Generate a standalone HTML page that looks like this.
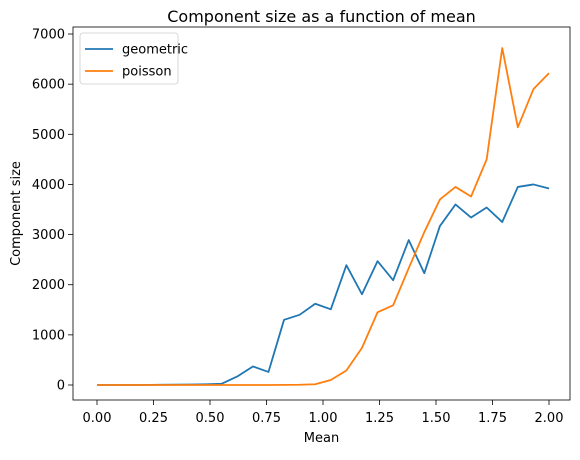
<!DOCTYPE html>
<html><head><meta charset="utf-8"><style>
body{margin:0;background:#fff}
text{font-family:"DejaVu Sans","Liberation Sans",sans-serif;fill:#000}
</style></head><body>
<svg width="580" height="455" id="svg">
</svg>
<script>
const categories=[];for(let i=0;i<30;i++)categories.push(i*2/29);
const geometric=[0,0,0,0,5,8,10,15,25,170,370,260,1300,1400,1620,1510,2390,1810,2470,2090,2890,2230,3170,3600,3340,3540,3250,3950,4000,3920];
const poisson=[0,0,0,0,0,0,0,0,0,0,0,0,2,5,15,100,290,740,1450,1590,2330,3050,3700,3950,3760,4500,6720,5140,5900,6220];
const xTicks=["0.00","0.25","0.50","0.75","1.00","1.25","1.50","1.75","2.00"];
const yTicks=[0,1000,2000,3000,4000,5000,6000,7000];
const L=73,R=570,T=27,B=400;
const X=v=>97+v*226, Y=v=>385-v*0.05014;
const s=document.getElementById('svg');const N='http://www.w3.org/2000/svg';
function mk(t,a,txt){const e=document.createElementNS(N,t);for(const k in a)e.setAttribute(k,a[k]);if(txt!==undefined)e.textContent=txt;s.appendChild(e);return e;}
let e;
xTicks.forEach(t=>{const x=X(+t);
e=mk('line',{x1:x,x2:x,y1:B,y2:B+5,stroke:'#000','stroke-width':0.8});

e=mk('text',{x:x,y:B+22,'font-size':13,'text-anchor':'middle'},t);
});
yTicks.forEach(t=>{const y=Y(t);
e=mk('line',{x1:L-5,x2:L,y1:y,y2:y,stroke:'#000','stroke-width':0.8});

e=mk('text',{x:L-8,y:y+4.5,'font-size':13,'text-anchor':'end'},String(t));
});
function line(d,c,n){e=mk('polyline',{points:d.map((v,i)=>X(categories[i])+','+Y(v)).join(' '),fill:'none',stroke:c,'stroke-width':1.8,'stroke-linejoin':'round'});
}
line(geometric,'#1f77b4','geometric-line');line(poisson,'#ff7f0e','poisson-line');
e=mk('rect',{x:L,y:T,width:R-L,height:B-T,fill:'none',stroke:'#000','stroke-width':0.8});

e=mk('text',{x:(L+R)/2,y:T-5,'font-size':16,'text-anchor':'middle'},'Component size as a function of mean');

e=mk('text',{x:(L+R)/2,y:442,'font-size':13,'text-anchor':'middle'},'Mean');

e=mk('text',{x:20,y:(T+B)/2,'font-size':13,'text-anchor':'middle',transform:'rotate(-90 20 '+(T+B)/2+')'},'Component size');

e=mk('rect',{x:80,y:33,width:98,height:51,rx:3,fill:'#fff',stroke:'#ccc','stroke-width':0.8});

[['geometric','#1f77b4',49],['poisson','#ff7f0e',71]].forEach(([n,c,y])=>{
e=mk('line',{x1:85,x2:113,y1:y,y2:y,stroke:c,'stroke-width':1.8});

e=mk('text',{x:122,y:y+4.5,'font-size':13},n);
});
</script>
</body></html>
